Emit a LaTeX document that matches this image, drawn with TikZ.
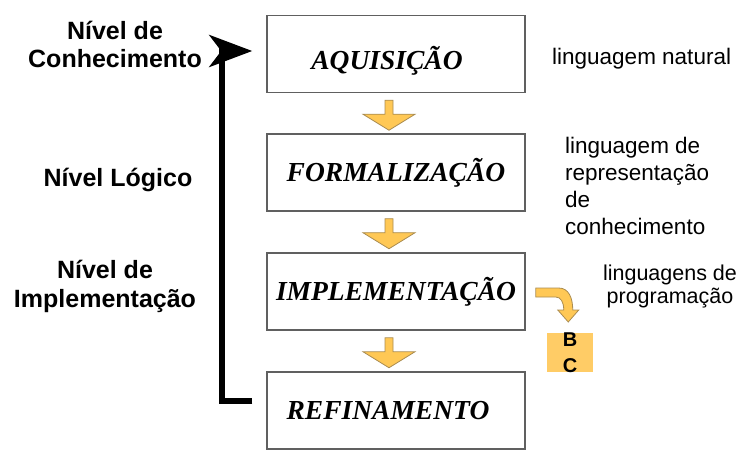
\documentclass[tikz,border=0pt]{standalone}
\usepackage{fontspec}
\setmainfont{Liberation Serif}
\setsansfont{Liberation Sans}
\usetikzlibrary{arrows.meta,calc}
\definecolor{arrowfill}{RGB}{255,200,85}
\definecolor{arrowline}{RGB}{170,140,80}
\definecolor{bcfill}{RGB}{255,204,102}
\definecolor{boxline}{RGB}{96,96,96}
\begin{document}
\begin{tikzpicture}[x=1pt,y=-1pt,
	stage/.style={draw=boxline,line width=1.5pt,minimum width=258pt,minimum height=77pt,inner sep=0pt,
		text height=18.2pt,text depth=0pt,font=\fontsize{27.5}{32}\selectfont\bfseries\itshape},
	level/.style={anchor=base,align=center,inner sep=0pt,font=\sffamily\bfseries\fontsize{25}{28.5}\selectfont},
	lang/.style={anchor=base west,align=left,inner sep=0pt,font=\sffamily\fontsize{22.5}{27.3}\selectfont},
	flow/.style={fill=arrowfill,draw=arrowline,line width=.8pt},
	fback/.style={line width=6pt,shorten <=14pt,shorten >=14pt,-{Stealth[length=43pt,width=32pt,inset=12pt]}}]
		\useasboundingbox (0,0) rectangle (756,468);
		
		\node[stage] (aq) at (396,54) {\raisebox{-6pt}{AQUISIÇÃO}\hspace*{18pt}};
		\node[stage] (fo) at (396,172.5) {FORMALIZAÇÃO};
		\node[stage] (im) at (396,291.5) {IMPLEMENTAÇÃO};
		\node[stage] (re) at (396,410.5) {REFINAMENTO\hspace*{16pt}};
		
		\foreach \a/\b in {aq/fo,fo/im,im/re}
			\filldraw[flow] ($(\a.south)+(-11,7)$) -- ++(8,0) -- ++(0,14) -- ++(22,0) -- ++(-26,16) -- ++(-26,-16) -- ++(22,0) -- cycle;
		
		\draw[fback] ([yshift=10pt]re.west) -- ++(-44,0) |- ([yshift=3pt]aq.west);
		
		\node[level] (lvc) at (115,68) {Nível de\\Conhecimento};
		\node[level] (lvl) at (118,187) {Nível Lógico};
		\node[level] (lvi) at (105,307) {Nível de\\Implementação};
		
		\node[lang] (ln) at (552,65) {linguagem natural};
		\node[lang] (lr) at (565,235) {linguagem de\\representação\\de\\conhecimento};
		\node[lang,anchor=base,align=center,font=\sffamily\fontsize{21.5}{23}\selectfont] (lp) at (670,303) {linguagens de\\programação};
		
		\node[fill=bcfill,minimum width=46pt,minimum height=39pt,inner sep=0pt,align=center,
			font=\sffamily\bfseries\fontsize{20}{26}\selectfont] (bc) at (570,352.5) {B\\C};
		\begin{scope}[shift={(im.east)}]
			\filldraw[flow] (10,-3.5) -- (33,-3.5) .. controls (43,-3.5) and (47,6.5) .. (47,18.5) -- (53,18.5) -- (42.5,30.5)
				-- (32,18.5) -- (38,18.5) .. controls (38,10.5) and (35,5.5) .. (30,5.5) -- (10,5.5) -- cycle;
		\end{scope}
		
		\end{tikzpicture}
\end{document}
